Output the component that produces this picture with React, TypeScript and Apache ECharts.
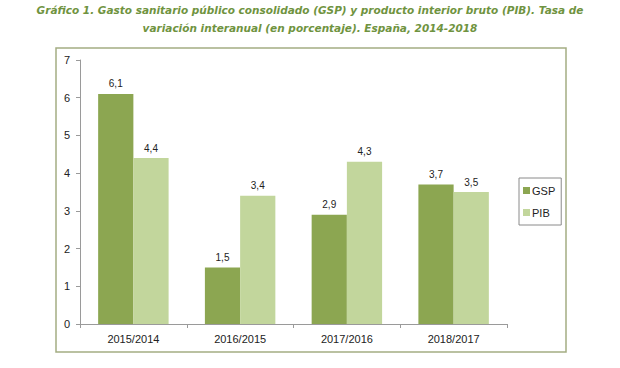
import React, { useEffect, useRef } from "react";
import * as echarts from "echarts";

const categories = ["2015/2014", "2016/2015", "2017/2016", "2018/2017"];
const gsp = [6.1, 1.5, 2.9, 3.7];
const pib = [4.4, 3.4, 4.3, 3.5];
const titleLines = [
  "Gráfico 1. Gasto sanitario público consolidado (GSP) y producto interior bruto (PIB). Tasa de",
  "variación interanual (en porcentaje). España, 2014-2018",
];

const fmt = (v: number) => v.toFixed(1).replace(".", ",");

export default function App() {
  const ref = useRef<HTMLDivElement>(null);
  useEffect(() => {
    if (!ref.current) return;
    const chart = echarts.init(ref.current, null, { renderer: "svg" });
    const labelStyle = {
      show: true,
      position: "top" as const,
      distance: 5,
      color: "#222",
      fontSize: 10,
      fontFamily: "Liberation Sans",
      formatter: (p: any) => fmt(p.value),
    };
    chart.setOption({
      animation: false,
      backgroundColor: "#fff",
      title: {
        text: titleLines.join("\n"),
        left: "center",
        top: 1,
        padding: 0,
        textStyle: {
          color: "#6f9340",
          fontFamily: "DejaVu Sans",
          fontStyle: "italic",
          fontWeight: "bold",
          fontSize: 10.5,
          lineHeight: 18,
        },
      },
      graphic: [
        {
          type: "rect",
          shape: { x: 56, y: 48, width: 510, height: 304 },
          style: { fill: "none", stroke: "#a4ad82", lineWidth: 1.5 },
          silent: true,
          z: -1,
        },
      ],
      legend: {
        orient: "vertical",
        left: 519,
        top: 178,
        itemWidth: 7,
        itemHeight: 7,
        itemGap: 11,
        padding: [7, 6, 7, 4],
        borderColor: "#8a8a8a",
        borderWidth: 1,
        icon: "rect",
        textStyle: { fontFamily: "Liberation Sans", fontSize: 11, color: "#222", padding: [0, 0, 0, -3] },
        data: ["GSP", "PIB"],
      },
      grid: { left: 80, right: 113, top: 60, bottom: 44 },
      xAxis: {
        type: "category",
        data: categories,
        axisLine: { lineStyle: { color: "#9a9a9a" } },
        axisTick: { show: true, length: 4, lineStyle: { color: "#9a9a9a" } },
        axisLabel: { color: "#222", fontSize: 11, fontFamily: "Liberation Sans", margin: 9 },
      },
      yAxis: {
        type: "value",
        min: 0,
        max: 7,
        interval: 1,
        splitLine: { show: false },
        axisLine: { show: true, lineStyle: { color: "#9a9a9a" } },
        axisTick: { show: true, length: 4, lineStyle: { color: "#9a9a9a" } },
        axisLabel: { color: "#222", fontSize: 11, fontFamily: "Liberation Sans", margin: 10 },
      },
      series: [
        {
          name: "GSP",
          type: "bar",
          data: gsp,
          barGap: "0%",
          barCategoryGap: "34%",
          itemStyle: { color: "#8ca651" },
          label: labelStyle,
        },
        {
          name: "PIB",
          type: "bar",
          data: pib,
          itemStyle: { color: "#c2d69c" },
          label: labelStyle,
        },
      ],
    });
    return () => chart.dispose();
  }, []);
  return (
    <div
      ref={ref}
      style={{ position: "absolute", left: 0, top: 0, width: 620, height: 368 }}
    />
  );
}
